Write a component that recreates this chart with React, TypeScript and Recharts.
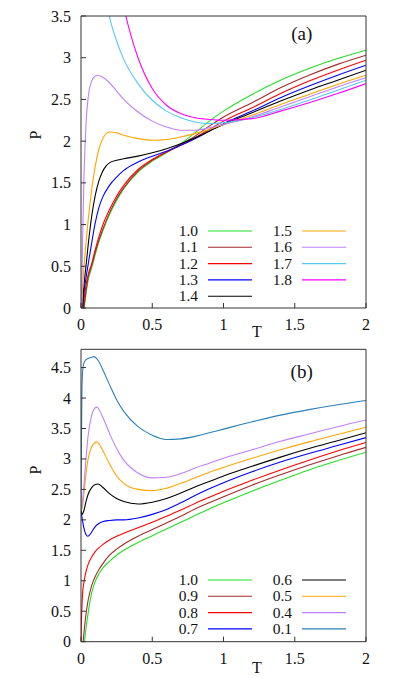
import React from "react";
import { LineChart, Line, XAxis, YAxis } from "recharts";

const SERIF = "'Liberation Serif', 'Times New Roman', 'DejaVu Serif', serif";
const FRAME = "#333";
const TXT = "#111";
const FONT = { fontFamily: SERIF };

// panel (a): [T, P]
const a10 = [[0.022, 0], [0.035, 0.17], [0.05, 0.33], [0.075, 0.48], [0.1, 0.64], [0.125, 0.79], [0.15, 0.91], [0.2, 1.12], [0.25, 1.29], [0.3, 1.43], [0.4, 1.63], [0.5, 1.76], [0.6, 1.86], [0.7, 1.97], [0.8, 2.1], [0.9, 2.24], [1.0, 2.36], [1.2, 2.56], [1.4, 2.73], [1.6, 2.87], [1.8, 2.99], [2.0, 3.09]];
const a11 = [[0.02, 0], [0.035, 0.2], [0.05, 0.37], [0.075, 0.51], [0.1, 0.67], [0.125, 0.81], [0.15, 0.93], [0.2, 1.14], [0.25, 1.31], [0.3, 1.44], [0.4, 1.64], [0.5, 1.77], [0.6, 1.87], [0.7, 1.96], [0.8, 2.06], [0.9, 2.18], [1.0, 2.29], [1.2, 2.46], [1.4, 2.64], [1.6, 2.79], [1.8, 2.92], [2.0, 3.03]];
const a12 = [[0.016, 0], [0.025, 0.15], [0.035, 0.27], [0.05, 0.4], [0.075, 0.53], [0.1, 0.7], [0.125, 0.85], [0.15, 0.98], [0.2, 1.18], [0.25, 1.34], [0.3, 1.47], [0.4, 1.66], [0.5, 1.78], [0.6, 1.87], [0.7, 1.95], [0.8, 2.04], [0.9, 2.14], [1.0, 2.24], [1.2, 2.4], [1.4, 2.57], [1.6, 2.72], [1.8, 2.85], [2.0, 2.97]];
const a13 = [[0.012, 0], [0.02, 0.17], [0.035, 0.36], [0.05, 0.52], [0.075, 0.78], [0.1, 1.02], [0.125, 1.2], [0.15, 1.32], [0.2, 1.47], [0.25, 1.57], [0.3, 1.65], [0.4, 1.75], [0.5, 1.82], [0.6, 1.88], [0.7, 1.95], [0.8, 2.03], [0.9, 2.12], [1.0, 2.21], [1.2, 2.36], [1.4, 2.52], [1.6, 2.66], [1.8, 2.79], [2.0, 2.91]];
const a14 = [[0.01, 0], [0.02, 0.25], [0.035, 0.5], [0.05, 0.75], [0.075, 1.1], [0.1, 1.35], [0.125, 1.52], [0.15, 1.63], [0.175, 1.7], [0.2, 1.74], [0.25, 1.77], [0.3, 1.79], [0.4, 1.82], [0.5, 1.86], [0.6, 1.91], [0.7, 1.97], [0.8, 2.04], [0.9, 2.12], [1.0, 2.2], [1.2, 2.34], [1.4, 2.48], [1.6, 2.61], [1.8, 2.73], [2.0, 2.85]];
const a15 = [[0.005, 0], [0.01, 0.2], [0.02, 0.47], [0.035, 0.78], [0.05, 1.05], [0.075, 1.42], [0.1, 1.7], [0.125, 1.9], [0.15, 2.02], [0.2, 2.11], [0.25, 2.1], [0.3, 2.07], [0.4, 2.03], [0.5, 2.01], [0.6, 2.02], [0.7, 2.05], [0.8, 2.09], [0.9, 2.14], [1.0, 2.2], [1.2, 2.31], [1.4, 2.44], [1.6, 2.56], [1.8, 2.68], [2.0, 2.79]];
const a16 = [[0.003, 0], [0.01, 0.7], [0.02, 1.5], [0.035, 2.2], [0.05, 2.52], [0.075, 2.72], [0.1, 2.78], [0.12, 2.79], [0.15, 2.77], [0.2, 2.7], [0.25, 2.6], [0.3, 2.5], [0.4, 2.35], [0.5, 2.24], [0.6, 2.17], [0.7, 2.13], [0.8, 2.13], [0.9, 2.16], [1.0, 2.2], [1.2, 2.29], [1.4, 2.41], [1.6, 2.53], [1.8, 2.65], [2.0, 2.76]];
const a17 = [[0.1, 4.9], [0.15, 3.95], [0.2, 3.49], [0.25, 3.2], [0.3, 2.98], [0.4, 2.69], [0.5, 2.49], [0.6, 2.36], [0.7, 2.28], [0.8, 2.23], [0.9, 2.21], [1.0, 2.22], [1.2, 2.28], [1.4, 2.38], [1.6, 2.49], [1.8, 2.61], [2.0, 2.73]];
const a18 = [[0.2, 5.2], [0.25, 4.3], [0.3, 3.63], [0.35, 3.27], [0.4, 3.0], [0.5, 2.63], [0.6, 2.43], [0.7, 2.33], [0.8, 2.28], [0.9, 2.26], [1.0, 2.25], [1.2, 2.27], [1.4, 2.36], [1.6, 2.46], [1.8, 2.57], [2.0, 2.69]];

// panel (b)
const b10 = [[0.025, 0], [0.035, 0.22], [0.05, 0.47], [0.075, 0.8], [0.1, 0.99], [0.125, 1.11], [0.15, 1.2], [0.2, 1.32], [0.25, 1.42], [0.3, 1.5], [0.4, 1.63], [0.5, 1.74], [0.6, 1.85], [0.7, 1.96], [0.8, 2.07], [0.9, 2.18], [1.0, 2.28], [1.2, 2.47], [1.4, 2.65], [1.6, 2.82], [1.8, 2.97], [2.0, 3.11]];
const b09 = [[0.015, 0], [0.025, 0.25], [0.035, 0.45], [0.05, 0.68], [0.075, 0.92], [0.1, 1.07], [0.125, 1.18], [0.15, 1.27], [0.2, 1.42], [0.25, 1.52], [0.3, 1.6], [0.4, 1.73], [0.5, 1.84], [0.6, 1.95], [0.7, 2.06], [0.8, 2.18], [0.9, 2.28], [1.0, 2.38], [1.2, 2.57], [1.4, 2.74], [1.6, 2.9], [1.8, 3.05], [2.0, 3.19]];
const b08 = [[0, 0], [0.004, 0.4], [0.01, 0.75], [0.02, 0.97], [0.035, 1.15], [0.05, 1.27], [0.075, 1.39], [0.1, 1.48], [0.125, 1.54], [0.15, 1.59], [0.2, 1.67], [0.25, 1.73], [0.3, 1.78], [0.4, 1.87], [0.5, 1.96], [0.6, 2.06], [0.7, 2.16], [0.8, 2.27], [0.9, 2.37], [1.0, 2.47], [1.2, 2.65], [1.4, 2.82], [1.6, 2.98], [1.8, 3.13], [2.0, 3.27]];
const b07 = [[0, 2.14], [0.01, 2.0], [0.02, 1.87], [0.035, 1.76], [0.048, 1.73], [0.06, 1.75], [0.075, 1.8], [0.1, 1.89], [0.125, 1.94], [0.15, 1.97], [0.2, 1.99], [0.25, 2.0], [0.3, 2.0], [0.4, 2.03], [0.5, 2.09], [0.6, 2.17], [0.7, 2.28], [0.8, 2.4], [0.9, 2.51], [1.0, 2.61], [1.2, 2.79], [1.4, 2.95], [1.6, 3.09], [1.8, 3.22], [2.0, 3.35]];
const b06 = [[0, 2.2], [0.008, 2.09], [0.02, 2.15], [0.035, 2.3], [0.05, 2.42], [0.075, 2.53], [0.1, 2.58], [0.12, 2.59], [0.15, 2.54], [0.2, 2.43], [0.25, 2.35], [0.3, 2.3], [0.4, 2.26], [0.5, 2.29], [0.6, 2.35], [0.7, 2.44], [0.8, 2.54], [0.9, 2.63], [1.0, 2.72], [1.2, 2.88], [1.4, 3.03], [1.6, 3.17], [1.8, 3.3], [2.0, 3.43]];
const b05 = [[0, 2.15], [0.01, 2.22], [0.02, 2.42], [0.035, 2.75], [0.05, 3.0], [0.075, 3.2], [0.1, 3.27], [0.11, 3.28], [0.125, 3.25], [0.15, 3.15], [0.2, 2.92], [0.25, 2.72], [0.3, 2.6], [0.4, 2.5], [0.5, 2.48], [0.6, 2.52], [0.7, 2.6], [0.8, 2.69], [0.9, 2.78], [1.0, 2.86], [1.2, 3.01], [1.4, 3.15], [1.6, 3.28], [1.8, 3.4], [2.0, 3.52]];
const b04 = [[0, 2.15], [0.01, 2.3], [0.02, 2.55], [0.035, 3.0], [0.05, 3.38], [0.075, 3.72], [0.1, 3.84], [0.11, 3.85], [0.125, 3.82], [0.15, 3.7], [0.2, 3.42], [0.25, 3.17], [0.3, 2.98], [0.4, 2.77], [0.5, 2.69], [0.6, 2.7], [0.7, 2.76], [0.8, 2.85], [0.9, 2.93], [1.0, 3.01], [1.2, 3.15], [1.4, 3.29], [1.6, 3.41], [1.8, 3.53], [2.0, 3.64]];
const b01 = [[0, 2.15], [0.003, 3.2], [0.007, 4.2], [0.015, 4.52], [0.025, 4.6], [0.05, 4.65], [0.075, 4.67], [0.09, 4.68], [0.1, 4.67], [0.125, 4.6], [0.15, 4.48], [0.2, 4.22], [0.25, 3.97], [0.3, 3.78], [0.4, 3.53], [0.5, 3.39], [0.6, 3.32], [0.7, 3.33], [0.8, 3.37], [0.9, 3.43], [1.0, 3.49], [1.2, 3.61], [1.4, 3.72], [1.6, 3.81], [1.8, 3.89], [2.0, 3.96]];

const namesA = ["1.0", "1.1", "1.2", "1.3", "1.4", "1.5", "1.6", "1.7", "1.8"];
const colorsA = ["#22e022", "#a52a2a", "#ff0000", "#0000ff", "#000000", "#ffa500", "#c080ff", "#56c8f0", "#ff00ff"];
const seriesA = [a10, a11, a12, a13, a14, a15, a16, a17, a18];

const namesB = ["1.0", "0.9", "0.8", "0.7", "0.6", "0.5", "0.4", "0.1"];
const colorsB = ["#22e022", "#a52a2a", "#ff0000", "#0000ff", "#000000", "#ffa500", "#c080ff", "#2a80b9"];
const seriesB = [b10, b09, b08, b07, b06, b05, b04, b01];

const xTicks = [0, 0.5, 1, 1.5, 2];
const yTicksA = [0, 0.5, 1, 1.5, 2, 2.5, 3, 3.5];
const yTicksB = [0, 0.5, 1, 1.5, 2, 2.5, 3, 3.5, 4, 4.5];

const toPts = (arr: number[][]) => arr.map(([T, P]) => ({ T, P }));

const BottomTick = (props: any) => {
  const { x, y, payload } = props;
  return (
    <g>
      <line x1={x} x2={x} y1={y} y2={y - 5} stroke={FRAME} />
      <text x={x} y={y + 22} textAnchor="middle" style={FONT} fontSize={16} fill={TXT}>
        {payload.value}
      </text>
    </g>
  );
};
const TopTick = (props: any) => {
  const { x, y } = props;
  return <line x1={x} x2={x} y1={y} y2={y + 5} stroke={FRAME} />;
};
const LeftTick = (props: any) => {
  const { x, y, payload } = props;
  return (
    <g>
      <line x1={x} x2={x + 5} y1={y} y2={y} stroke={FRAME} />
      <text x={x - 10} y={y + 5.5} textAnchor="end" style={FONT} fontSize={16} fill={TXT}>
        {payload.value}
      </text>
    </g>
  );
};
const RightTick = (props: any) => {
  const { x, y } = props;
  return <line x1={x} x2={x - 5} y1={y} y2={y} stroke={FRAME} />;
};

type PanelProps = {
  series: number[][][];
  names: string[];
  colors: string[];
  yMax: number;
  yTicks: number[];
  margin: { top: number; right: number; bottom: number; left: number };
  tag: string;
  col1: number;
  legendTop: number;
  pY: number;
  tY: number;
  tagY: number;
};

function Panel(p: PanelProps) {
  const W = 395;
  const H = 339;
  return (
    <div style={{ position: "relative", width: W, height: H }}>
      <LineChart width={W} height={H} margin={p.margin}>
        <XAxis
          xAxisId="b"
          type="number"
          dataKey="T"
          domain={[0, 2]}
          ticks={xTicks}
          height={30}
          tickSize={0}
          tickMargin={0}
          tickLine={false}
          axisLine={{ stroke: FRAME }}
          tick={BottomTick}
          allowDataOverflow
        />
        <XAxis
          xAxisId="t"
          orientation="top"
          type="number"
          dataKey="T"
          domain={[0, 2]}
          ticks={xTicks}
          height={1}
          tickSize={0}
          tickMargin={0}
          tickLine={false}
          axisLine={{ stroke: FRAME }}
          tick={TopTick}
        />
        <YAxis
          yAxisId="l"
          type="number"
          domain={[0, p.yMax]}
          ticks={p.yTicks}
          width={40}
          tickSize={0}
          tickMargin={0}
          tickLine={false}
          axisLine={{ stroke: FRAME }}
          tick={LeftTick}
          allowDataOverflow
        />
        <YAxis
          yAxisId="r"
          orientation="right"
          type="number"
          domain={[0, p.yMax]}
          ticks={p.yTicks}
          width={1}
          tickSize={0}
          tickMargin={0}
          tickLine={false}
          axisLine={{ stroke: FRAME }}
          tick={RightTick}
        />
        {p.series.map((s, i) => (
          <Line
            key={p.names[i]}
            xAxisId="b"
            yAxisId="l"
            data={toPts(s)}
            dataKey="P"
            name={p.names[i]}
            type="monotone"
            stroke={p.colors[i]}
            strokeWidth={1.1}
            dot={false}
            activeDot={false}
            isAnimationActive={false}
          />
        ))}
      </LineChart>
      <svg
        width={W}
        height={H}
        style={{ position: "absolute", left: 0, top: 0, pointerEvents: "none", fontFamily: SERIF }}
      >
        <text x={301.7} y={p.tagY} textAnchor="middle" fontSize={19} fill={TXT} style={FONT}>
          {p.tag}
        </text>
        <text
          x={35}
          y={p.pY}
          textAnchor="middle"
          dominantBaseline="central"
          fontSize={16}
          fill={TXT}
          style={FONT}
          transform={`rotate(-90 35 ${p.pY})`}
        >
          P
        </text>
        <text x={257} y={p.tY} textAnchor="middle" fontSize={16} fill={TXT} style={FONT}>
          T
        </text>
        {p.names.map((n, i) => {
          const c = i < p.col1 ? 0 : 1;
          const r = c === 0 ? i : i - p.col1;
          const y = p.legendTop + r * 16.3;
          const tx = c === 0 ? 198 : 292;
          const lx = c === 0 ? 208 : 302;
          return (
            <g key={n}>
              <text x={tx} y={y + 5} textAnchor="end" fontSize={15.5} fill={TXT} style={FONT}>
                {n}
              </text>
              <line x1={lx} x2={lx + 44} y1={y} y2={y} stroke={p.colors[i]} strokeWidth={1.1} />
            </g>
          );
        })}
      </svg>
    </div>
  );
}

export default function App() {
  return (
    <div
      style={{
        position: "absolute",
        left: 0,
        top: 0,
        width: 395,
        height: 678,
        background: "#fff",
      }}
    >
      <Panel
        series={seriesA}
        names={namesA}
        colors={colorsA}
        yMax={3.5}
        yTicks={yTicksA}
        margin={{ top: 15, right: 28, bottom: 1, left: 41 }}
        tag="(a)"
        col1={5}
        legendTop={231}
        pY={135}
        tY={337}
        tagY={39.5}
      />
      <Panel
        series={seriesB}
        names={namesB}
        colors={colorsB}
        yMax={4.8}
        yTicks={yTicksB}
        margin={{ top: 9.3, right: 28, bottom: 6.3, left: 41 }}
        tag="(b)"
        col1={4}
        legendTop={241}
        pY={131}
        tY={334}
        tagY={38.7}
      />
    </div>
  );
}
